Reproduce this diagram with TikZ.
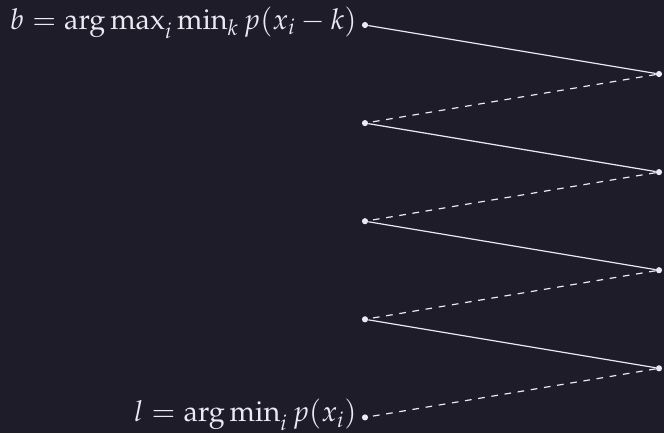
\documentclass[tikz,border=0pt]{standalone}
\usepackage{amsmath}
\usepackage{mathpazo}
\usepackage{xcolor}
\usepackage{tikz}
\usetikzlibrary{positioning}

\definecolor{bgdark}{HTML}{1D1C28}
\definecolor{inkpale}{HTML}{ECE8F4}
\DeclareMathOperator*{\argmax}{arg\,max}
\DeclareMathOperator*{\argmin}{arg\,min}

\tikzset{
  dot/.style={circle,fill=inkpale,inner sep=0pt,minimum size=4.6pt},
  jump/.style={draw=inkpale,line width=0.9pt},
  back/.style={draw=inkpale,line width=0.9pt,dash pattern=on 5pt off 5pt},
  lbl/.style={text=inkpale,inner sep=1pt,anchor=base east,font=\fontsize{21.6}{26}\selectfont}
}

\begin{document}
\begin{tikzpicture}[x=0.75pt,y=-0.75pt]
  \fill[bgdark] (0,0) rectangle (664,433);
  \useasboundingbox (0,0) rectangle (664,433);

  % left column and right column of points
  \foreach \i in {0,...,4}
    \node[dot] (l\i) at (365,{25+98.1*\i}) {};
  \foreach \i in {1,...,4}
    \node[dot] (r\i) at (659,{74+98.1*(\i-1)}) {};

  \node[lbl] (top) at ([xshift=-5pt,yshift=-3pt]l0.center) {$b = \argmax_i \min_k p(x_i - k)$};
  \node[lbl] (bot) at ([xshift=-5pt,yshift=-3pt]l4.center) {$l = \argmin_i p(x_i)$};

  \foreach \i [evaluate=\i as \j using int(\i-1)] in {1,...,4} {
    \draw[jump] (l\j) -- (r\i);
    \draw[back] (r\i) -- (l\i);
  }
\end{tikzpicture}
\end{document}
